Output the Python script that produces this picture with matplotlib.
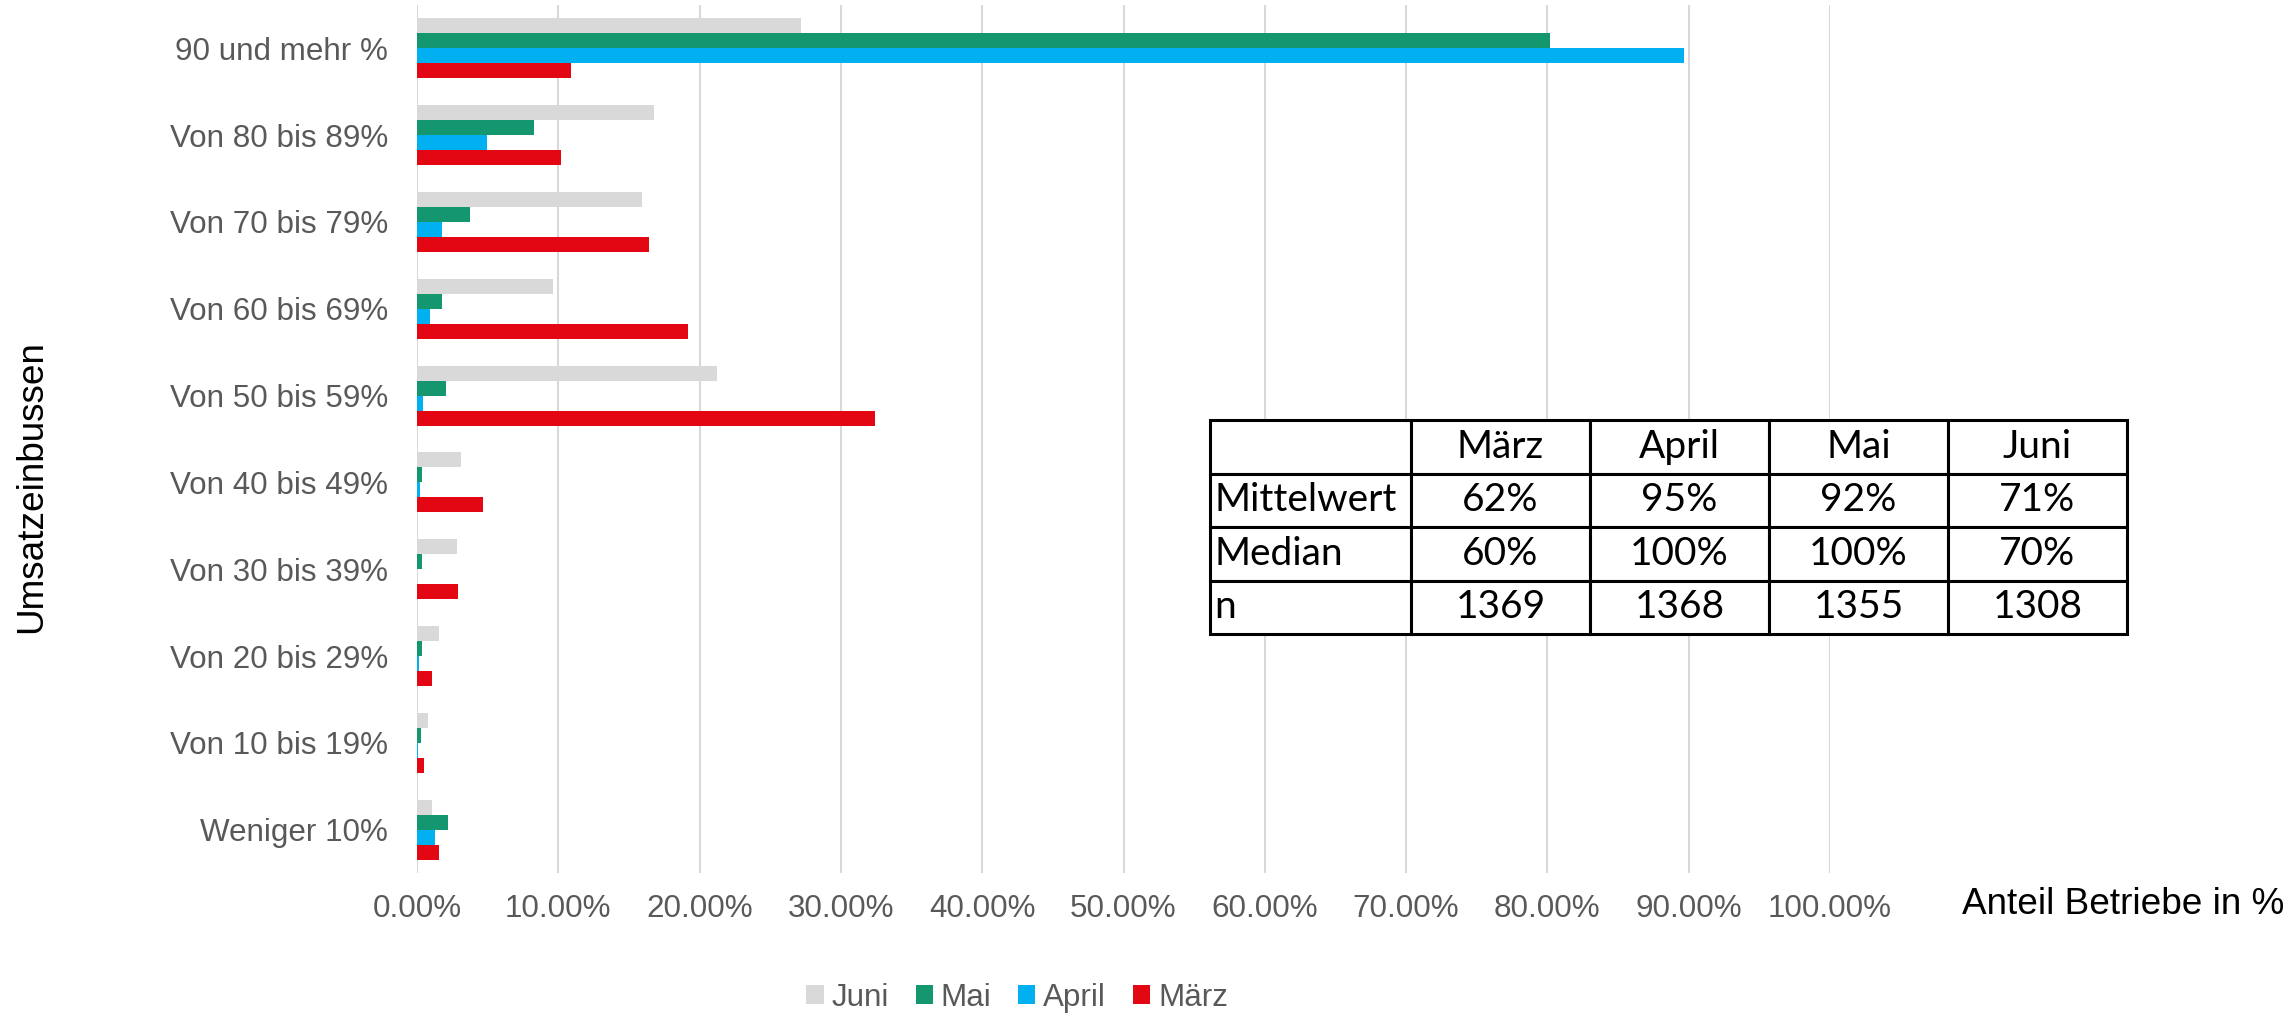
import matplotlib.pyplot as plt
import matplotlib.ticker as mticker
import numpy as np

plt.rcParams['font.family'] = ['Liberation Sans', 'DejaVu Sans']

categories = ["Weniger 10%", "Von 10 bis 19%", "Von 20 bis 29%", "Von 30 bis 39%",
              "Von 40 bis 49%", "Von 50 bis 59%", "Von 60 bis 69%", "Von 70 bis 79%",
              "Von 80 bis 89%", "90 und mehr %"]

# shares in percent, bottom category first
juni = [1.06, 0.77, 1.59, 2.80, 3.09, 21.2, 9.6, 15.9, 16.8, 27.2]
mai = [2.20, 0.28, 0.33, 0.37, 0.37, 2.07, 1.75, 3.78, 8.25, 80.2]
april = [1.26, 0.08, 0.16, 0.0, 0.24, 0.45, 0.93, 1.75, 4.96, 89.7]
maerz = [1.59, 0.49, 1.06, 2.89, 4.67, 32.4, 19.2, 16.4, 10.2, 10.9]

series_names = ["Juni", "Mai", "April", "März"]
series_colors = ["#D9D9D9", "#14966E", "#00B0F0", "#E30613"]

table_cols = ["", "März", "April", "Mai", "Juni"]
table_rows = [["Mittelwert", "62%", "95%", "92%", "71%"],
              ["Median", "60%", "100%", "100%", "70%"],
              ["n", "1369", "1368", "1355", "1308"]]

W, H = 2291, 1016
fig = plt.figure(figsize=(W / 100, H / 100), dpi=100)
ax = fig.add_axes([417 / W, 1 - 873 / H, (1830 - 417) / W, (873 - 5) / H])

y = np.arange(len(categories))
h = 0.173
data = [juni, mai, april, maerz]
offsets = [1.5, 0.5, -0.5, -1.5]
for vals, name, col, off in zip(data, series_names, series_colors, offsets):
    ax.barh(y + off * h, np.array(vals) / 100, height=h, color=col, label=name, zorder=3)

ax.set_ylim(-0.5, len(categories) - 0.5)
ax.set_xlim(0, 1.0)
ax.set_xticks(np.arange(0, 1.01, 0.1))
ax.xaxis.set_major_formatter(mticker.FuncFormatter(lambda v, p: f"{v * 100:.2f}%"))
ax.set_yticks(y)
ax.set_yticklabels(categories)
ax.tick_params(axis='both', length=0, labelsize=22.6, labelcolor="#595959")
ax.tick_params(axis='x', pad=15)
ax.tick_params(axis='y', pad=21)
ax.grid(axis='x', color="#D9D9D9", linewidth=1.5, zorder=0)
ax.set_axisbelow(True)
for s in ax.spines.values():
    s.set_visible(False)

fig.text(1962 / W, 1 - 905 / H, "Anteil Betriebe in %", fontsize=26.6, ha='left', va='center')
fig.text(32 / W, 1 - 487 / H, "Umsatzeinbussen", fontsize=26.6, rotation=90, ha='center', va='center')

handles, labels = ax.get_legend_handles_labels()
fig.legend(handles, labels, loc='center', bbox_to_anchor=(0.444, 1 - 998 / H), ncol=4,
           frameon=False, fontsize=22.6, labelcolor="#595959", handlelength=0.55,
           handleheight=0.55, handletextpad=0.25, columnspacing=0.85)

# summary table
tax = fig.add_axes([1210 / W, 1 - 634 / H, (2127 - 1210) / W, (634 - 420) / H])
tax.axis('off')
widths = np.array([201, 179, 179, 179, 179], dtype=float)
tbl = tax.table(cellText=table_rows, colLabels=table_cols, colWidths=list(widths / widths.sum()),
                bbox=[0, 0, 1, 1], cellLoc='center')
tbl.auto_set_font_size(False)
for (r, c), cell in tbl.get_celld().items():
    cell.set_linewidth(2.2)
    cell.set_edgecolor("black")
    cell.set_facecolor("white")
    cell.get_text().set_fontsize(28)
    cell.get_text().set_fontfamily("Lato")
    if c == 0:
        cell.get_text().set_ha('left')
        cell.PAD = 0.02

fig.savefig("out.png", dpi=100)
